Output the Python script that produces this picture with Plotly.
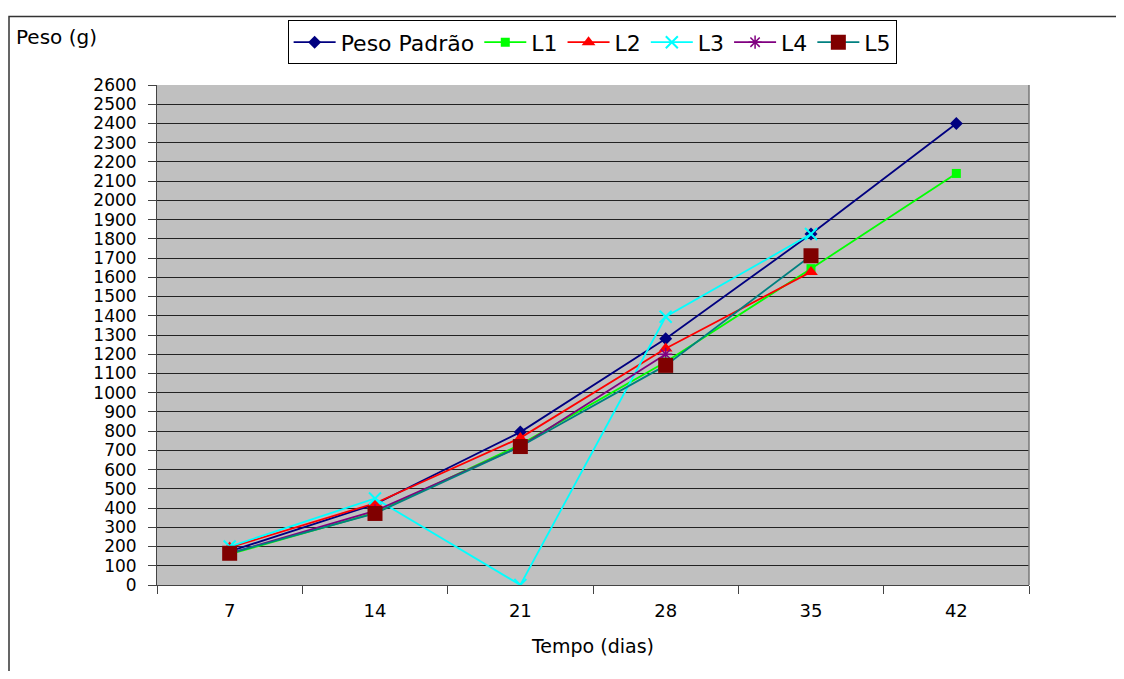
import plotly.graph_objects as go

dias = ["7", "14", "21", "28", "35", "42"]
peso_padrao = [175, 420, 795, 1280, 1825, 2400]
l1 = [160, 375, 730, 1160, 1645, 2140]
l2 = [195, 425, 765, 1230, 1628, None]
l3 = [200, 450, 0, 1395, 1825, None]
l4 = [165, 385, 720, 1200, None, None]
l5 = [165, 372, 720, 1142, 1712, None]
y_ticks = list(range(0, 2601, 100))

FONT = "DejaVu Sans, Verdana, sans-serif"

series = [
    ("Peso Padrão", peso_padrao, "#000080", dict(symbol="diamond", size=10, color="#000080")),
    ("L1", l1, "#00FF00", dict(symbol="square", size=9, color="#00FF00")),
    ("L2", l2, "#FF0000", dict(symbol="triangle-up", size=12, color="#FF0000")),
    ("L3", l3, "#00FFFF", dict(symbol="x-thin", size=12, color="#00FFFF", line=dict(color="#00FFFF", width=2))),
    ("L4", l4, "#800080", dict(symbol="asterisk", size=11, color="#800080", line=dict(color="#800080", width=1.5))),
    ("L5", l5, "#008080", dict(symbol="square", size=15, color="#800000")),
]

fig = go.Figure()
for name, vals, col, mk in series:
    fig.add_trace(go.Scatter(
        x=dias, y=vals, name=name, mode="lines+markers",
        line=dict(color=col, width=1.8), marker=mk, connectgaps=False,
    ))

W, H = 1108, 663
L, R, T, B = 149, 87, 74, 86
PW, PH = W - L - R, H - T - B

fig.update_layout(
    width=W, height=H,
    margin=dict(l=L, r=R, t=T, b=B),
    paper_bgcolor="white", plot_bgcolor="#C0C0C0",
    font=dict(family=FONT, size=17, color="black"),
    showlegend=True,
    legend=dict(
        orientation="h", x=0.499, xanchor="center", y=(PH + T - 9) / PH, yanchor="top",
        bgcolor="white", bordercolor="black", borderwidth=1,
        font=dict(family=FONT, size=22), itemwidth=42, tracegroupgap=0,
    ),
    xaxis=dict(
        type="category", categoryorder="array", categoryarray=dias,
        tickson="boundaries", ticks="outside", ticklen=8, tickcolor="#444",
        showgrid=False, showline=True, linecolor="#444", linewidth=1,
        tickfont=dict(family=FONT, size=18), range=[-0.5, 5.5], ticklabelstandoff=9,
        title=dict(text="Tempo (dias)", font=dict(family=FONT, size=19), standoff=20),
        mirror=False,
    ),
    yaxis=dict(
        range=[0, 2600], tickvals=y_ticks, ticks="outside", ticklen=8, tickcolor="#444",
        showgrid=True, gridcolor="#222", gridwidth=1,
        showline=True, linecolor="#444", linewidth=1, ticklabelstandoff=8,
        tickfont=dict(family=FONT, size=17), zeroline=False,
    ),
    shapes=[
        dict(type="rect", xref="paper", yref="paper",
             x0=(1 - L) / PW, x1=1.25, y0=-0.3, y1=(PH + T - 5) / PH,
             line=dict(color="#333", width=1.5), fillcolor="rgba(0,0,0,0)", layer="below"),
        dict(type="line", xref="paper", yref="paper", x0=1, x1=1, y0=0, y1=1,
             line=dict(color="#777", width=1.5)),
    ],
    annotations=[
        dict(text="Peso (g)", xref="paper", yref="paper",
             x=(6 - L) / PW, y=(PH + T - 26) / PH, xanchor="left", yanchor="middle",
             showarrow=False, font=dict(family=FONT, size=20)),
    ],
)

fig.write_html("out.html")
